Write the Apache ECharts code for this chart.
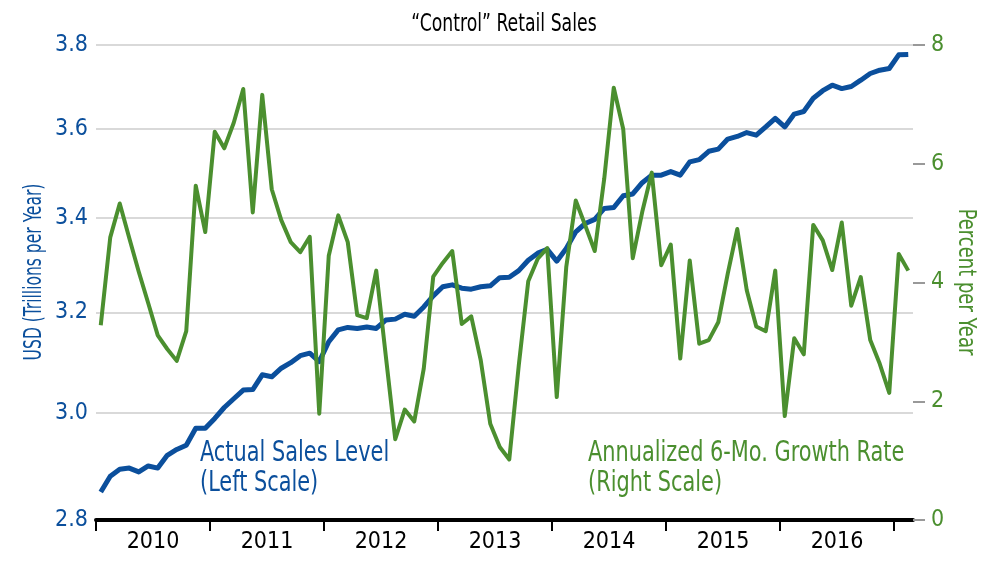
<!DOCTYPE html>
<html>
<head>
<meta charset="utf-8">
<script src="https://cdn.jsdelivr.net/npm/echarts@6/dist/echarts.min.js"></script>
<style>
html, body { margin: 0; padding: 0; background: #fff; }
#main { width: 1000px; height: 567px; }
</style>
</head>
<body>
<div id="main"></div>
<script>
// monthly data, Jan 2010 .. Feb 2017
var startYear = 2010;
var salesLevel = [
    2.851, 2.880, 2.893, 2.895, 2.888, 2.899, 2.895, 2.919, 2.930, 2.938, 2.970, 2.970,
    2.989, 3.010, 3.027, 3.044, 3.045, 3.074, 3.070, 3.087, 3.098, 3.112, 3.117, 3.100,
    3.140, 3.164, 3.169, 3.167, 3.170, 3.167, 3.184, 3.186, 3.196, 3.192, 3.211, 3.234,
    3.253, 3.257, 3.250, 3.248, 3.253, 3.255, 3.272, 3.273, 3.287, 3.309, 3.324, 3.332,
    3.307, 3.334, 3.370, 3.388, 3.397, 3.421, 3.423, 3.449, 3.453, 3.478, 3.495, 3.495,
    3.503, 3.495, 3.525, 3.530, 3.549, 3.554, 3.577, 3.583, 3.592, 3.586, 3.605, 3.625,
    3.605, 3.635, 3.641, 3.672, 3.690, 3.703, 3.695, 3.700, 3.715, 3.731, 3.739, 3.743,
    3.776, 3.777
];
var growthRate = [
    3.28, 4.76, 5.33, 4.75, 4.18, 3.65, 3.11, 2.88, 2.68, 3.18, 5.63, 4.85,
    6.54, 6.26, 6.69, 7.26, 5.18, 7.16, 5.57, 5.05, 4.68, 4.51, 4.77, 1.79,
    4.45, 5.13, 4.68, 3.45, 3.40, 4.20, 2.77, 1.36, 1.86, 1.66, 2.55, 4.10,
    4.33, 4.53, 3.30, 3.43, 2.69, 1.62, 1.23, 1.02, 2.60, 4.02, 4.40, 4.58,
    2.07, 4.26, 5.38, 4.96, 4.53, 5.75, 7.28, 6.58, 4.41, 5.19, 5.85, 4.29,
    4.64, 2.72, 4.37, 2.97, 3.03, 3.33, 4.15, 4.90, 3.87, 3.26, 3.18, 4.20,
    1.75, 3.06, 2.79, 4.97, 4.71, 4.21, 5.01, 3.61, 4.09, 3.03, 2.63, 2.14,
    4.48, 4.20
];
var leftTicks = [2.8, 3.0, 3.2, 3.4, 3.6, 3.8];
var yearTicks = [2010, 2011, 2012, 2013, 2014, 2015, 2016, 2017];
var yearLabels = [2010, 2011, 2012, 2013, 2014, 2015, 2016];

var blue = '#0b4f9c';
var green = '#4b8f2f';
var font = "'Liberation Sans Narrow', 'DejaVu Sans Condensed', sans-serif";
var narrow = 0.8;   // squeeze for the condensed look of the original

// months plotted at mid-month on a decimal-year axis
function monthPos(i) { return startYear + (i + 0.5) / 12; }
var salesData = salesLevel.map(function (v, i) { return [monthPos(i), v]; });
var growthData = growthRate.map(function (v, i) { return [monthPos(i), v]; });

var myChart = echarts.init(document.getElementById('main'));
var option = {
    animation: false,
    backgroundColor: '#fff',
    grid: { left: 96, right: 87, top: 45, bottom: 47 },
    xAxis: {
        type: 'value',
        min: startYear,
        max: startYear + salesLevel.length / 12,
        axisLine: { show: true, lineStyle: { color: '#000', width: 4 } },
        axisTick: { show: true, length: 11, customValues: yearTicks, lineStyle: { color: '#000', width: 2 } },
        axisLabel: {
            customValues: yearLabels.map(function (y) { return y + 0.5; }),
            formatter: function (v) { return String(Math.floor(v)); },
            margin: 11,
            color: '#000',
            fontFamily: font,
            fontSize: 23
        },
        splitLine: { show: false }
    },
    yAxis: [
        {
            type: 'log',
            min: 2.8,
            max: 3.8,
            position: 'left',
            axisLine: { show: false },
            axisTick: { show: false, customValues: leftTicks },
            axisLabel: {
                customValues: leftTicks,
                formatter: function (v) { return v.toFixed(1); },
                color: blue,
                margin: 8,
                fontFamily: font,
                fontSize: 23
            },
            splitLine: { show: true, lineStyle: { color: '#d9d9d9', width: 2 } }
        },
        {
            type: 'value',
            min: 0,
            max: 8,
            interval: 2,
            position: 'right',
            axisLine: { show: false },
            axisTick: { show: true, length: 12, lineStyle: { color: '#999', width: 2 } },
            axisLabel: { color: green, margin: 18, fontFamily: font, fontSize: 23 },
            splitLine: { show: false }
        }
    ],
    graphic: [
        {
            type: 'text', x: 504, y: 13, scaleX: narrow,
            style: { text: '\u201cControl\u201d Retail Sales', fill: '#000', font: '24px ' + font, textAlign: 'center' }
        },
        {
            type: 'text', x: 35, y: 272, rotation: Math.PI / 2, scaleX: 0.72,
            style: { text: 'USD (Trillions per Year)', fill: blue, font: '24px ' + font, textAlign: 'center', textVerticalAlign: 'middle' }
        },
        {
            type: 'text', x: 965, y: 282, rotation: -Math.PI / 2, scaleX: narrow,
            style: { text: 'Percent per Year', fill: green, font: '25px ' + font, textAlign: 'center', textVerticalAlign: 'middle' }
        },
        {
            type: 'text', x: 200, y: 438, scaleX: narrow,
            style: { text: 'Actual Sales Level\n(Left Scale)', fill: blue, font: '29px ' + font, lineHeight: 30 }
        },
        {
            type: 'text', x: 588, y: 438, scaleX: narrow,
            style: { text: 'Annualized 6-Mo. Growth Rate\n(Right Scale)', fill: green, font: '29px ' + font, lineHeight: 30 }
        }
    ],
    series: [
        {
            name: 'Actual Sales Level',
            type: 'line',
            yAxisIndex: 0,
            data: salesData,
            showSymbol: false,
            lineStyle: { color: blue, width: 5, join: 'round' },
            z: 2
        },
        {
            name: 'Annualized 6-Mo. Growth Rate',
            type: 'line',
            yAxisIndex: 1,
            data: growthData,
            showSymbol: false,
            lineStyle: { color: green, width: 4, join: 'round' },
            z: 3
        }
    ]
};
myChart.setOption(option);
</script>
</body>
</html>
